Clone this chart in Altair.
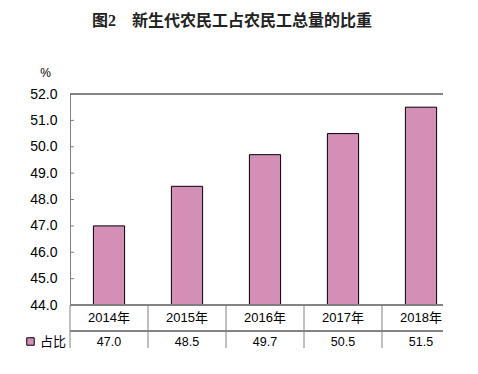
import altair as alt
import pandas as pd

years = ["2014年", "2015年", "2016年", "2017年", "2018年"]
values = [47.0, 48.5, 49.7, 50.5, 51.5]
value_labels = ["47.0", "48.5", "49.7", "50.5", "51.5"]
series = ["占比", "占比", "占比", "占比", "占比"]
y_ticks = [44, 45, 46, 47, 48, 49, 50, 51, 52]

title_text = "图2　新生代农民工占农民工总量的比重"

PINK = "#d48fb6"
LINE = "#808080"
FONT = "Liberation Sans, Noto Sans CJK SC"

df = pd.DataFrame({"year": years, "value": values, "label": value_labels, "series": series})
tick_df = pd.DataFrame({"t": y_ticks})

xscale = alt.Scale(domain=years, paddingInner=0, paddingOuter=0, range=[0, 390])
yscale = alt.Scale(domain=[44, 52], zero=False, nice=False)

y_axis = alt.Axis(
    values=y_ticks,
    format=".1f",
    labelFontSize=14,
    labelFont=FONT,
    labelColor="black",
    labelOverlap=False,
    ticks=False,
    labelPadding=13,
    domainColor=LINE,
    grid=False,
    title="%",
    titleAngle=0,
    titleX=-25,
    titleY=-22,
    titleAlign="center",
    titleBaseline="middle",
    titleFontWeight="normal",
    titleFontSize=12,
    titleFont=FONT,
    titleColor="black",
)

base = alt.Chart(df)

bars = base.mark_bar(width={"band": 0.4}, stroke="black", strokeWidth=1).encode(
    x=alt.X("year:N", scale=xscale, axis=None, sort=years),
    y=alt.Y("value:Q", scale=yscale, axis=y_axis, title="%"),
    y2=alt.datum(44),
    fill=alt.Fill(
        "series:N",
        scale=alt.Scale(domain=["占比"], range=[PINK]),
        legend=alt.Legend(
            title=None,
            orient="none",
            legendX=-46,
            legendY=241,
            symbolType="square",
            symbolSize=56,
            symbolStrokeColor="black",
            symbolStrokeWidth=1,
            labelFontSize=13,
            labelFont=FONT,
            labelColor="black",
            labelOffset=3,
            padding=0,
        ),
    ),
)

inner_ticks = alt.Chart(tick_df).mark_rule(color=LINE, strokeWidth=1).encode(
    y=alt.Y("t:Q", scale=yscale, axis=y_axis, title="%"),
    x=alt.value(0),
    x2=alt.value(4),
)

top_line = base.mark_rule(color=LINE, strokeWidth=1).encode(
    x=alt.value(0), x2=alt.value(390), y=alt.value(0)
)
bottom_line = base.mark_rule(color=LINE, strokeWidth=1).encode(
    x=alt.value(0), x2=alt.value(390), y=alt.value(211)
)
row_line = base.mark_rule(color=LINE, strokeWidth=1).encode(
    x=alt.value(0), x2=alt.value(390), y=alt.value(237)
)

dividers = base.mark_rule(color=LINE, strokeWidth=1).encode(
    x=alt.X("year:N", scale=xscale, bandPosition=0, sort=years),
    y=alt.value(211),
    y2=alt.value(254),
)

year_text = base.mark_text(fontSize=13, font=FONT, color="black", baseline="middle").encode(
    x=alt.X("year:N", scale=xscale, sort=years),
    y=alt.value(224),
    text="year:N",
)

value_text = base.mark_text(fontSize=12.5, font=FONT, color="black", baseline="middle").encode(
    x=alt.X("year:N", scale=xscale, sort=years),
    y=alt.value(248),
    text="label:N",
)

chart = (
    alt.layer(bars, inner_ticks, top_line, bottom_line, row_line, dividers, year_text, value_text)
    .properties(
        width=373,
        height=211,
        autosize=alt.AutoSizeParams(type="none"),
        padding={"left": 62, "top": 86, "right": 0, "bottom": 52},
        title=alt.TitleParams(
            title_text,
            anchor="start",
            frame="group",
            dx=22,
            offset=37,
            fontSize=16,
            font="Liberation Serif, Noto Sans CJK SC",
            fontWeight="bold",
            color="#222222",
        ),
    )
    .configure_view(stroke=None)
)

chart.save("out.html", embed_options={"renderer": "svg", "actions": False})
